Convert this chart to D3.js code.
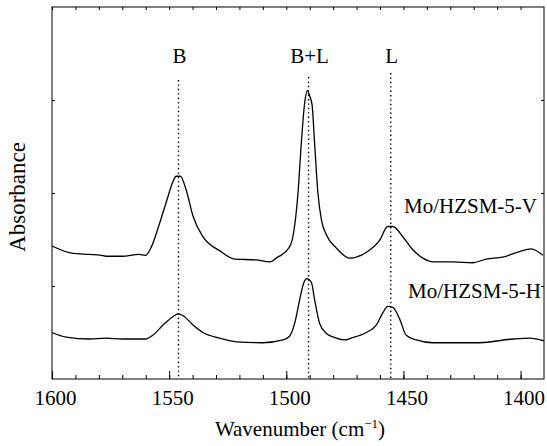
<!DOCTYPE html>
<html>
<head>
<meta charset="utf-8">
<script src="https://cdn.jsdelivr.net/npm/d3@7"></script>
<style>
    body { margin: 0; background: #fff; }
    text { font-family: "Liberation Serif", "Times New Roman", serif; fill: #000; }
</style>
</head>
<body>
<div id="ir-chart"></div>
<script>
'use strict';

// wavenumbers (cm-1) and absorbance (arbitrary units, curves offset)
const wavenumberV = [1600, 1591, 1584, 1579, 1577, 1570, 1563, 1560, 1557.6, 1554, 1551, 1548.4, 1547, 1545.2,
    1542.7, 1539.8, 1535.6, 1528.5, 1522, 1512.8, 1507, 1504.3, 1498.6, 1496.9, 1495, 1493.6, 1492.2, 1491,
    1490, 1489, 1487.9, 1486.5, 1485, 1482.9, 1478.7, 1473, 1465.9, 1460.2, 1456.7, 1454.5, 1450.3, 1446,
    1441.7, 1437.5, 1428.9, 1420.4, 1414.7, 1407.6, 1400.5, 1395.5, 1390.5];
const absorbanceV = [1.43, 1.35, 1.34, 1.33, 1.32, 1.32, 1.34, 1.33, 1.42, 1.68, 1.92, 2.12, 2.18, 2.18,
    2.03, 1.75, 1.53, 1.38, 1.29, 1.28, 1.26, 1.30, 1.42, 1.57, 2.00, 2.53, 2.96, 3.10,
    3.04, 2.95, 2.53, 2.00, 1.71, 1.55, 1.41, 1.30, 1.36, 1.49, 1.64, 1.64, 1.53, 1.39,
    1.30, 1.26, 1.26, 1.25, 1.29, 1.31, 1.37, 1.40, 1.33];

const wavenumberH = [1600, 1594, 1584, 1577, 1570, 1560, 1557, 1552.6, 1548.4, 1546.2, 1544, 1539.8, 1535.6,
    1528.5, 1521.3, 1510, 1501.4, 1498.6, 1496.4, 1494.3, 1492.6, 1491.2, 1489.3, 1487.9, 1485.8, 1482.9,
    1478.7, 1475.1, 1472.3, 1465.9, 1461.6, 1458.8, 1456.7, 1454.5, 1451.7, 1448.8, 1444.5, 1437.5, 1417.5,
    1403.3, 1396.2, 1390];
const absorbanceH = [0.50, 0.45, 0.43, 0.44, 0.43, 0.43, 0.47, 0.58, 0.67, 0.70, 0.68, 0.58, 0.50,
    0.44, 0.40, 0.39, 0.42, 0.46, 0.60, 0.85, 1.03, 1.08, 1.04, 0.85, 0.60, 0.49,
    0.44, 0.42, 0.44, 0.50, 0.58, 0.71, 0.78, 0.77, 0.65, 0.47, 0.42, 0.39, 0.39,
    0.43, 0.44, 0.41];

const seriesNames = ['Mo/HZSM-5-V', 'Mo/HZSM-5-H'];
const bandNames = ['B', 'B+L', 'L'];
const bandPositions = [1546, 1490.5, 1455.4];
const xTickLabels = [1600, 1550, 1500, 1450, 1400];
const yTickValues = [1, 2, 3];

// set the dimensions of the graph
var margin = {top: 7, right: 3, bottom: 67, left: 52},
    width = 547 - margin.left - margin.right,
    height = 446 - margin.top - margin.bottom;

var fontSize = '21px';

var x = d3.scaleLinear().domain([1600, 1390]).range([0, width]);
var y = d3.scaleLinear().domain([0, 4]).range([height, 0]);

var svg = d3.select('#ir-chart').append('svg')
    .attr('width', 547)
    .attr('height', 446)
    .append('g')
    .attr('transform', 'translate(' + margin.left + ',' + margin.top + ')');

// ticks every 10 cm-1, longer at the labelled ones
var minorTicks = d3.range(1600, 1390, -10);

svg.append('g')
    .attr('transform', 'translate(0,' + height + ')')
    .call(d3.axisBottom(x).tickValues(minorTicks)
        .tickSizeInner(-4).tickSizeOuter(0).tickFormat(''))
    .call(g => g.select('.domain').remove());

svg.append('g')
    .attr('transform', 'translate(0,' + height + ')')
    .call(d3.axisBottom(x).tickValues(xTickLabels)
        .tickSizeInner(-8).tickSizeOuter(0).tickPadding(11).tickFormat(d3.format('d')))
    .call(g => g.select('.domain').remove())
    .call(g => g.selectAll('text')
        .attr('dx', 3)
        .style('font-size', fontSize)
        .attr('font-family', null));

svg.append('g')
    .call(d3.axisTop(x).tickValues(minorTicks).tickSizeInner(-3).tickSizeOuter(0).tickFormat(''))
    .call(g => g.select('.domain').remove());

svg.append('g')
    .call(d3.axisLeft(y).tickValues(yTickValues).tickSizeInner(-3).tickSizeOuter(0).tickFormat(''))
    .call(g => g.select('.domain').remove());

svg.append('g')
    .attr('transform', 'translate(' + width + ',0)')
    .call(d3.axisRight(y).tickValues(yTickValues).tickSizeInner(-3).tickSizeOuter(0).tickFormat(''))
    .call(g => g.select('.domain').remove());

svg.selectAll('.tick line').attr('stroke', '#000');

// frame
svg.append('rect')
    .attr('width', width)
    .attr('height', height)
    .attr('fill', 'none')
    .attr('stroke', '#000')
    .attr('stroke-width', 1);

// dotted band markers
var bandTops = [80, 77, 73];
svg.selectAll('.band')
    .data(bandPositions)
    .enter().append('line')
    .attr('class', 'band')
    .attr('x1', d => x(d))
    .attr('x2', d => x(d))
    .attr('y1', (d, i) => bandTops[i] - margin.top)
    .attr('y2', height)
    .attr('stroke', '#000')
    .attr('stroke-width', 1.4)
    .attr('stroke-dasharray', '1.4,3');

svg.selectAll('.band-label')
    .data(bandNames)
    .enter().append('text')
    .attr('class', 'band-label')
    .attr('x', (d, i) => x(bandPositions[i]) + 1)
    .attr('y', 63 - margin.top)
    .attr('text-anchor', 'middle')
    .style('font-size', fontSize)
    .text(d => d);

// spectra
var line = d3.line()
    .x(d => x(d[0]))
    .y(d => y(d[1]))
    .curve(d3.curveMonotoneX);

var spectra = [d3.zip(wavenumberV, absorbanceV), d3.zip(wavenumberH, absorbanceH)];

svg.selectAll('.spectrum')
    .data(spectra)
    .enter().append('path')
    .attr('class', 'spectrum')
    .attr('d', line)
    .attr('fill', 'none')
    .attr('stroke', '#000')
    .attr('stroke-width', 1.3);

var labelBaselines = [213, 298];
svg.selectAll('.series-label')
    .data(seriesNames)
    .enter().append('text')
    .attr('class', 'series-label')
    .attr('x', (d, i) => [537, 541][i] - margin.left)
    .attr('y', (d, i) => labelBaselines[i] - margin.top)
    .attr('text-anchor', 'end')
    .style('font-size', fontSize)
    .text(d => d);

// axis titles
var xTitle = svg.append('text')
    .attr('x', width / 2 + 2)
    .attr('y', 436 - margin.top)
    .attr('text-anchor', 'middle')
    .style('font-size', fontSize);
xTitle.append('tspan').text('Wavenumber (cm');
xTitle.append('tspan').attr('dy', -8).style('font-size', '13px').text('\u22121');
xTitle.append('tspan').attr('dy', 8).text(')');

svg.append('text')
    .attr('transform', 'translate(' + (25 - margin.left) + ',' + (197 - margin.top) + ') rotate(-90)')
    .attr('text-anchor', 'middle')
    .style('font-size', '23px')
    .text('Absorbance');
</script>
</body>
</html>
